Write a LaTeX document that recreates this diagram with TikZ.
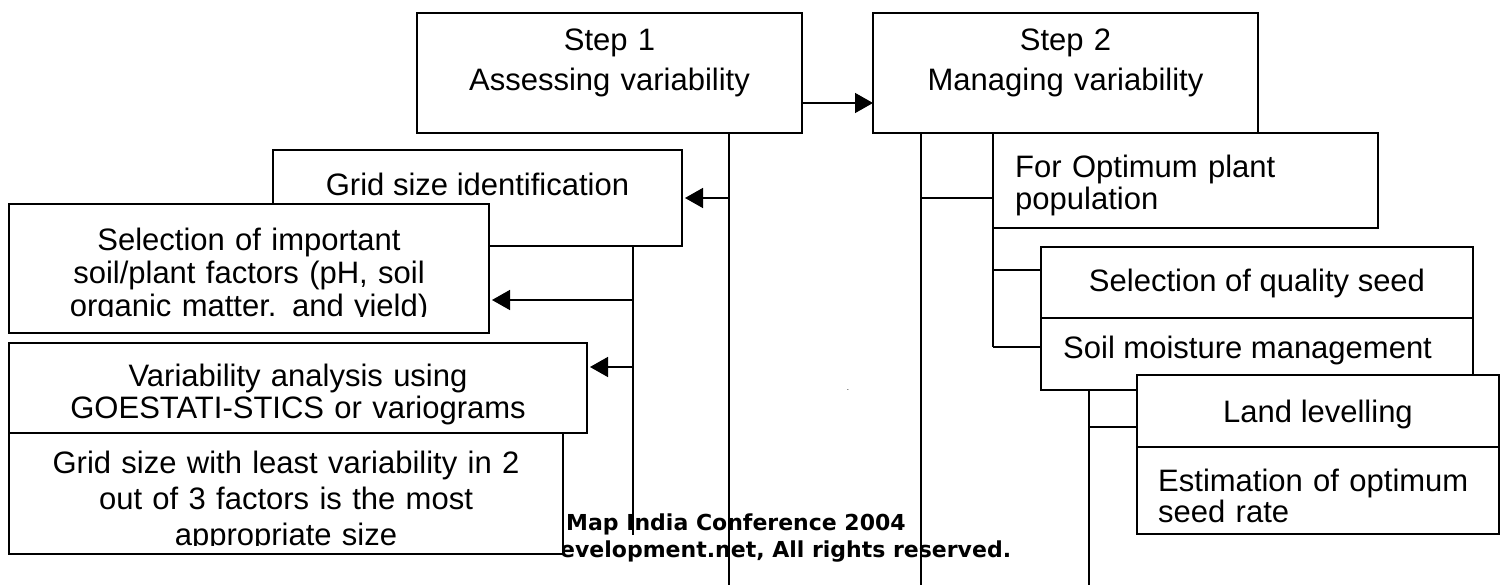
\documentclass[tikz,border=0pt]{standalone}
\usepackage{fontspec}
\setmainfont{Liberation Sans}
\newfontfamily\wmfont{DejaVu Sans}
\usepackage{tikz}
\usetikzlibrary{arrows.meta, positioning}
\tikzset{
  block/.style={rectangle, draw=black, fill=white, line width=1.5pt,
    anchor=north west, inner sep=0pt, outer sep=0pt},
  btext/.style={font=\fontsize{31}{37}\selectfont, inner sep=0pt, anchor=base},
  arrow/.style={-{Triangle[length=18pt,width=20pt]}, line width=1.5pt},
  line/.style={line width=1.5pt}
}

\begin{document}
\begin{tikzpicture}[x=1pt, y=-1pt,
  larrow/.style={arrow, shorten >=3pt},
  wmark/.style={font=\wmfont\bfseries\fontsize{22}{23}\selectfont,
    inner sep=0pt, anchor=base west}]
  \useasboundingbox (0,0) rectangle (1502,585);

  % Watermark
  \node[wmark] (wm_a) at (566,530) {Map India Conference 2004};
  \node[wmark] (wm_b) at (560,557) {evelopment.net, All rights reserved.};
  \node[font=\fontsize{8}{8}\selectfont, inner sep=0pt] (speck) at (848,390) {.};

  % Step 1
  \node[block, minimum width=385pt, minimum height=120pt] (a_step) at (417,13) {};
  \node[btext, text width=370pt, align=center, font=\fontsize{31}{40}\selectfont] (a_step_t) at ([yshift=-38pt]a_step.north) {Step 1\\Assessing variability};

  % Step 2
  \node[block, minimum width=385pt, minimum height=120pt] (m_step) at (873,13) {};
  \node[btext, text width=370pt, align=center, font=\fontsize{31}{40}\selectfont] (m_step_t) at ([yshift=-38pt]m_step.north) {Step 2\\Managing variability};
  \draw[arrow] ([yshift=-30pt]a_step.east) -- ([yshift=-30pt]m_step.west);

  % Assessing branch
  \node[block, minimum width=409pt, minimum height=96pt] (a_grid) at (273,150) {};
  \node[btext] (a_grid_t) at ([yshift=-46pt]a_grid.north) {Grid size identification};
  \node[block, minimum width=480pt, minimum height=129pt] (a_sel) at (9,204) {};
  \begin{scope}
    \clip (a_sel.north west) rectangle ([yshift=16pt]a_sel.south east);
    \node[btext, text width=470pt, align=center, font=\fontsize{31}{33}\selectfont] (a_sel_t) at ([yshift=-47pt]a_sel.north) {Selection of important\\soil/plant factors (pH, soil\\organic matter. and yield)};
  \end{scope}
  \node[block, minimum width=578pt, minimum height=90pt] (a_var) at (9,343) {};
  \node[btext, text width=560pt, align=center, font=\fontsize{31}{32}\selectfont] (a_var_t) at ([yshift=-43pt]a_var.north) {Variability analysis using\\GOESTATI-STICS or variograms};
  \node[block, minimum width=554pt, minimum height=121pt, below=0pt of a_var.south west, anchor=north west] (a_least) {};
  \begin{scope}
    \clip (a_least.north west) rectangle ([yshift=9pt]a_least.south east);
    \node[btext, text width=540pt, align=center, font=\fontsize{31}{36}\selectfont] (a_least_t) at ([yshift=-40pt]a_least.north) {Grid size with least variability in 2\\out of 3 factors is the most\\appropriate size};
  \end{scope}

  % Managing branch
  \node[block, minimum width=385pt, minimum height=95pt] (m_opt) at (993,133) {};
  \node[btext, anchor=base west, text width=350pt, align=left, font=\fontsize{31}{32}\selectfont] (m_opt_t) at ([xshift=22pt,yshift=-45pt]m_opt.north west) {For Optimum plant\\population};
  \node[block, minimum width=432pt, minimum height=71pt] (m_seed) at (1041,247) {};
  \node[btext] (m_seed_t) at ([yshift=-45pt]m_seed.north) {Selection of quality seed};
  \node[block, minimum width=432pt, minimum height=72pt, below=0pt of m_seed] (m_moist) {};
  \node[btext, anchor=base west] (m_moist_t) at ([xshift=22pt,yshift=-40pt]m_moist.north west) {Soil moisture management};
  \node[block, minimum width=362pt, minimum height=72pt] (m_land) at (1137,375) {};
  \node[btext] (m_land_t) at ([yshift=-47pt]m_land.north) {Land levelling};
  \node[block, minimum width=362pt, minimum height=87pt, below=0pt of m_land] (m_est) {};
  \node[btext, anchor=base west, text width=330pt, align=left, font=\fontsize{31}{31}\selectfont] (m_est_t) at ([xshift=21pt,yshift=-44pt]m_est.north west) {Estimation of optimum\\seed rate};

  % trunk lines
  \coordinate (a_end1) at (729,585);
  \coordinate (a_end2) at (633,535);
  \coordinate (m_end1) at (921,585);
  \coordinate (m_end2) at (993,347);
  \coordinate (m_end3) at (1089,585);
  \coordinate (a_sel_in) at ([yshift=-31.5pt]a_sel.east);
  \coordinate (a_var_in) at ([yshift=21pt]a_var.east);
  \coordinate (m_opt_in) at ([yshift=-17.5pt]m_opt.west);
  \coordinate (m_seed_in) at ([yshift=12.5pt]m_seed.west);
  \coordinate (m_moist_in) at ([yshift=7pt]m_moist.west);
  \coordinate (m_land_in) at ([yshift=-16pt]m_land.west);

  \draw[line] (a_step.south -| a_end1) -- (a_end1);
  \draw[larrow] (a_grid.east -| a_end1) -- (a_grid.east);
  \draw[line] (a_grid.south -| a_end2) -- (a_end2);
  \draw[larrow] (a_sel_in -| a_end2) -- (a_sel_in);
  \draw[larrow] (a_var_in -| a_end2) -- (a_var_in);

  \draw[line] (m_step.south -| m_end1) -- (m_end1);
  \draw[line] (m_opt_in -| m_end1) -- (m_opt_in);
  \draw[line] (m_step.south -| m_end2) -- (m_end2);
  \draw[line] (m_seed_in -| m_end2) -- (m_seed_in);
  \draw[line] (m_moist_in -| m_end2) -- (m_moist_in);
  \draw[line] (m_moist.south -| m_end3) -- (m_end3);
  \draw[line] (m_land_in -| m_end3) -- (m_land_in);
\end{tikzpicture}
\end{document}
